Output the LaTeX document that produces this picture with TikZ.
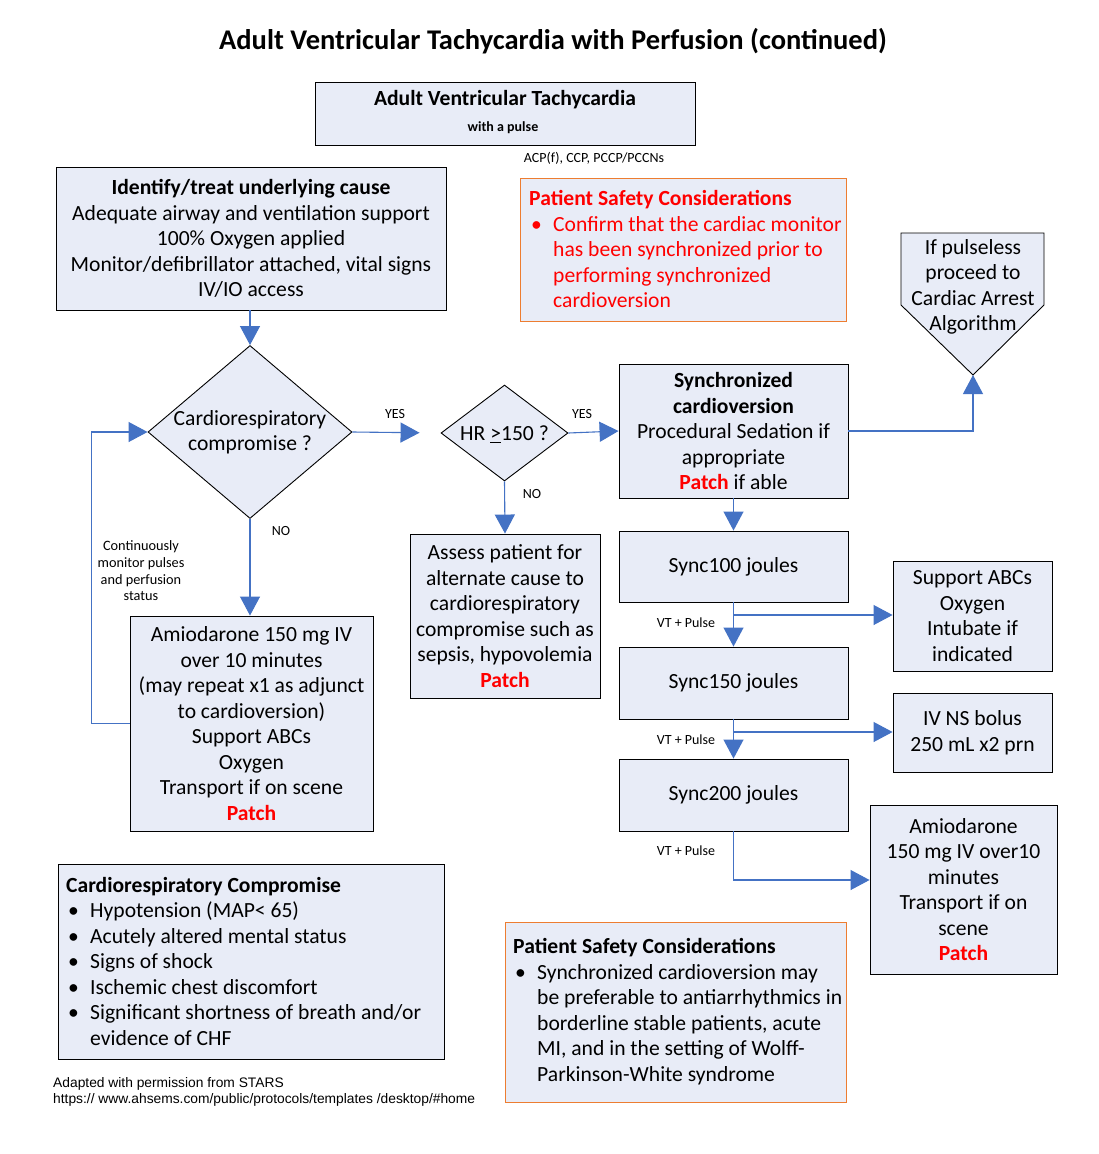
\documentclass[tikz,border=0pt]{standalone}
\usepackage{fontspec}
\setmainfont{Carlito}
\newfontfamily\arialf{Liberation Sans}
\usetikzlibrary{arrows.meta,shapes.geometric,calc}
\definecolor{boxfill}{RGB}{232,236,247}
\definecolor{arrblue}{RGB}{68,114,196}
\definecolor{orangeb}{RGB}{237,125,49}
\definecolor{redt}{RGB}{255,0,0}
\newcommand\bodyfnt{\fontsize{21.6}{25.5}\selectfont}
\newcommand\lblfnt{\fontsize{14}{16}\selectfont}
\newcommand\bul{\makebox[24pt][l]{\hspace{2pt}•}}
\newcommand\ind{\hspace*{24pt}}
\tikzset{
  box/.style={draw=black, line width=0.9pt, fill=boxfill, inner sep=0pt, align=center, font=\bodyfnt},
  dia/.style={diamond, draw=black, line width=0.9pt, fill=boxfill, inner sep=0pt},
  txt/.style={inner sep=0pt, align=center, font=\bodyfnt},
  ltxt/.style={inner sep=0pt, align=left, font=\bodyfnt, anchor=west},
  lbl/.style={inner sep=0pt, font=\lblfnt},
  arr/.style={draw=arrblue, line width=1.1pt, -{Triangle[length=19pt,width=20pt]}},
}
\begin{document}
\begin{tikzpicture}[x=1pt,y=-1pt]
\useasboundingbox[fill=white] (0,0) rectangle (1098,1154);

% title
\node[inner sep=0pt, font=\bfseries\fontsize{28.5}{33}\selectfont] (title) at (553,41) {Adult Ventricular Tachycardia with Perfusion (continued)};

% top box
\node[box, minimum width=380pt, minimum height=63pt] (top) at (505,113.5) {};
\node[txt, font=\bfseries\bodyfnt] (toptitle) at (505,100) {Adult Ventricular Tachycardia};
\node[txt, font=\bfseries\fontsize{14}{16}\selectfont] (topsub) at (503,128) {with a pulse};
\node[lbl] (acp) at (594,158) {ACP(f), CCP, PCCP/PCCNs};

% box 1
\node[box, minimum width=390pt, minimum height=143pt] (b1) at (251,238.5) {\textbf{Identify/treat underlying cause}\\Adequate airway and ventilation support\\100\% Oxygen applied\\Monitor/defibrillator attached, vital signs\\IV/IO access};

% safety box 1
\node[box, draw=orangeb, minimum width=326pt, minimum height=143pt] (ps1) at (683,249.5) {};
\node[ltxt, text=redt] (ps1t) at (529,249) {\textbf{Patient Safety Considerations}\\\bul Confirm that the cardiac monitor\\\ind has been synchronized prior to\\\ind performing synchronized\\\ind cardioversion};

% pentagon
\draw[fill=boxfill, line width=0.9pt] (901,233) -- (1044,233) -- (1044,305) -- (973,375) -- (901,305) -- cycle;
\coordinate (ptip) at (973,375);
\node[txt] (pent) at (973,287) {If pulseless\\proceed to\\Cardiac Arrest\\Algorithm};

% diamonds
\node[dia, minimum width=204pt, minimum height=173pt] (d1) at (250,432) {};
\node[txt] (d1t) at (250,432) {Cardiorespiratory\\compromise ?};
\node[dia, minimum width=127pt, minimum height=96pt] (d2) at (504.5,433) {};
\node[txt] (d2t) at (504.5,434) {HR \underline{>}150 ?};

% sync box
\node[box, minimum width=229pt, minimum height=134pt] (sync) at (733.5,431) {\textbf{Synchronized}\\\textbf{cardioversion}\\Procedural Sedation if\\appropriate\\\textcolor{redt}{\textbf{Patch}} if able};

% sync energy boxes
\node[box, minimum width=229pt, minimum height=71pt] (s100) at (733.5,566.5) {Sync100 joules};
\node[box, minimum width=229pt, minimum height=72pt] (s150) at (733.5,683) {Sync150 joules};
\node[box, minimum width=229pt, minimum height=72pt] (s200) at (733.5,795) {Sync200 joules};

% right side boxes
\node[box, minimum width=159pt, minimum height=110pt] (sup) at (972.5,616) {Support ABCs\\Oxygen\\Intubate if\\indicated};
\node[box, minimum width=159pt, minimum height=79pt] (iv) at (972.5,732.5) {IV NS bolus\\250 mL x2 prn};
\node[box, minimum width=187pt, minimum height=169pt] (am2) at (963.5,889.5) {Amiodarone\\150 mg IV over10\\minutes\\Transport if on\\scene\\\textcolor{redt}{\textbf{Patch}}};

% amiodarone box
\node[box, minimum width=243pt, minimum height=215pt] (amio) at (251.5,723.5) {Amiodarone 150 mg IV\\over 10 minutes\\(may repeat x1 as adjunct\\to cardioversion)\\Support ABCs\\Oxygen\\Transport if on scene\\\textcolor{redt}{\textbf{Patch}}};

% assess box
\node[box, minimum width=190pt, minimum height=164pt] (assess) at (505,616) {Assess patient for\\alternate cause to\\cardiorespiratory\\compromise such as\\sepsis, hypovolemia\\\textcolor{redt}{\textbf{Patch}}};

% CR compromise box
\node[box, minimum width=386pt, minimum height=195pt] (cr) at (251,961.5) {};
\node[ltxt] (crt) at (66,961) {\textbf{Cardiorespiratory Compromise}\\\bul Hypotension (MAP< 65)\\\bul Acutely altered mental status\\\bul Signs of shock\\\bul Ischemic chest discomfort\\\bul Significant shortness of breath and/or\\\ind evidence of CHF};

% safety box 2
\node[box, draw=orangeb, minimum width=341pt, minimum height=180pt] (ps2) at (675.5,1012) {};
\node[ltxt] (ps2t) at (513,1011.5) {\textbf{Patient Safety Considerations}\\\bul Synchronized cardioversion may\\\ind be preferable to antiarrhythmics in\\\ind borderline stable patients, acute\\\ind MI, and in the setting of Wolff-\\\ind Parkinson-White syndrome};

% footer
\node[inner sep=0pt, anchor=west, font=\arialf\fontsize{13.8}{16}\selectfont] (f1) at (53,1084) {Adapted with permission from STARS};
\node[inner sep=0pt, anchor=west, font=\arialf\fontsize{13.8}{16}\selectfont] (f2) at (53,1100) {https:// www.ahsems.com/public/protocols/templates /desktop/\#home};

% monitor label
\node[txt, font=\fontsize{14.3}{16.7}\selectfont] (mon) at (141,571) {Continuously\\monitor pulses\\and perfusion\\status};

% connectors
\draw[arr] (d1.north |- b1.south) -- (d1.north);
\draw[arr, shorten >=21pt] (d1.east) -- (d2.west);
\draw[arr] (d2.east) -- (sync.west);
\draw[arr] (d2.south) -- (assess.north);
\draw[arr] (d1.south) -- (d1.south |- amio.north);
\draw[arr] (amio.west) -- ++(-38,0) |- (d1.west);
\draw[arr] (sync.east) -- (sync.east -| ptip) -- (ptip);
\draw[arr] (sync.south) -- (s100.north);
\draw[arr] (s100.south) -- (s150.north);
\coordinate (br1) at (733.5,615);
\draw[arr] (br1) -- (br1 -| sup.west);
\draw[arr] (s150.south) -- (s200.north);
\coordinate (br2) at (733.5,732);
\draw[arr] (br2) -- (br2 -| iv.west);
\coordinate (br3) at (733.5,880);
\draw[arr] (s200.south) -- (br3) -- (br3 -| am2.west);

% labels
\node[lbl] (yes1) at (395,414) {YES};
\node[lbl] (yes2) at (582,414) {YES};
\node[lbl] (no1) at (532,494) {NO};
\node[lbl] (no2) at (281,531) {NO};
\node[lbl] (vt1) at (686,623) {VT + Pulse};
\node[lbl] (vt2) at (686,740) {VT + Pulse};
\node[lbl] (vt3) at (686,851) {VT + Pulse};
\end{tikzpicture}
\end{document}
